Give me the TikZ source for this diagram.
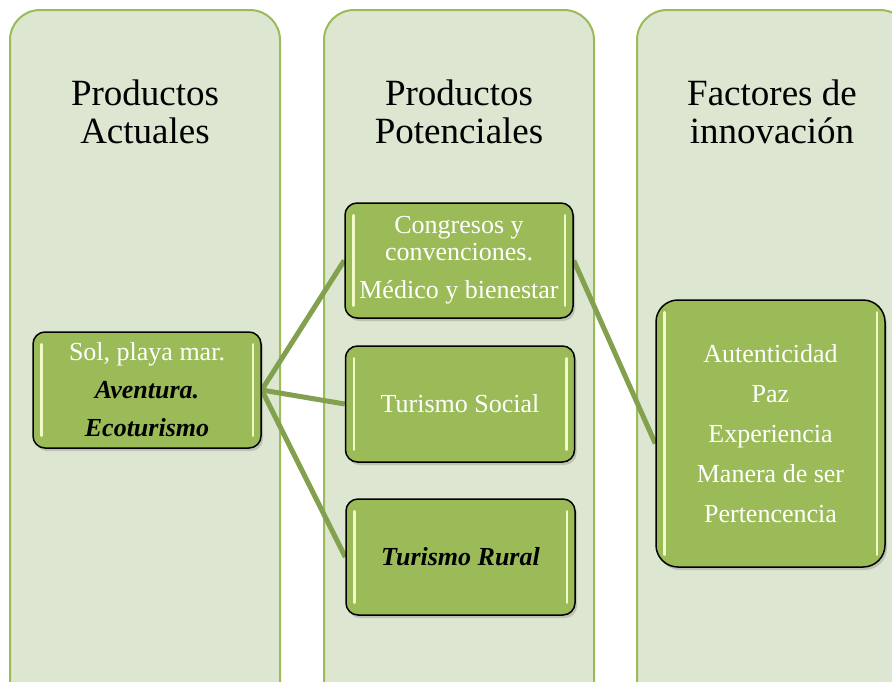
\documentclass[tikz,border=0pt]{standalone}
\usepackage{fontspec}
\setmainfont{Liberation Serif}
\usetikzlibrary{shadows}
\definecolor{panelfill}{HTML}{DDE6D0}
\definecolor{panelline}{HTML}{9BBB59}
\definecolor{boxfill}{HTML}{9BBB59}
\definecolor{linkcol}{HTML}{82A04E}
\definecolor{glintcol}{HTML}{F2FBC8}
\pgfdeclarelayer{bg}
\pgfdeclarelayer{links}
\pgfsetlayers{bg,links,main}
\begin{document}
\begin{tikzpicture}[x=1pt,y=-1pt,
  panel/.style={draw=panelline,fill=panelfill,line width=2pt,rounded corners=30pt},
  ptitle/.style={align=center,inner sep=0pt,font=\fontsize{37}{38}\selectfont},
  pbox/.style={draw=black,line width=1.5pt,fill=boxfill,rounded corners=12pt,
     inner sep=0pt,align=center,text=white,font=\fontsize{26}{38}\selectfont,
     drop shadow={opacity=0.35,shadow xshift=2pt,shadow yshift=-3pt}},
  emph/.style={text=black},
  glint/.style={draw=glintcol,line width=2.5pt,line cap=round},
  linkline/.style={draw=linkcol,line width=5pt}]
\useasboundingbox (0,0) rectangle (892,681);
\begin{pgfonlayer}{bg}
\begin{scope}
\clip (0,0) rectangle (892,681);
\draw[panel] (10,10) rectangle (280,720);
\draw[panel] (324,10) rectangle (594,720);
\draw[panel] (637,10) rectangle (910,720);
\end{scope}
\end{pgfonlayer}
\node[ptitle] (t1) at (145,112) {Productos\\Actuales};
\node[ptitle] (t2) at (459,112) {Productos\\Potenciales};
\node[ptitle] (t3) at (772,112) {Factores de\\innovación};

\node[pbox,minimum width=228pt,minimum height=116pt] (sol) at (147,390)
  {Sol, playa mar.\\{\color{black}\bfseries\itshape Aventura.}\\{\color{black}\bfseries\itshape Ecoturismo}};
\node[pbox,minimum width=228pt,minimum height=115pt,font=\fontsize{26}{27}\selectfont] (cong) at (459,260.5)
  {Congresos y\\convenciones.\\[11pt]Médico y bienestar};
\node[pbox,minimum width=229pt,minimum height=116pt] (social) at (460,404) {Turismo Social};
\node[pbox,minimum width=229pt,minimum height=116pt,text=black,font=\fontsize{26}{38}\selectfont\bfseries\itshape] (rural) at (460.5,557) {Turismo Rural};
\node[pbox,minimum width=229pt,minimum height=267pt,rounded corners=22pt,font=\fontsize{26}{40}\selectfont] (fact) at (770.5,433.5)
  {Autenticidad\\Paz\\Experiencia\\Manera de ser\\Pertencencia};

\foreach \b in {sol,cong,social,rural,fact}{
  \draw[glint] ([shift={(9,13)}]\b.north west) -- ([shift={(9,-13)}]\b.south west);
  \draw[glint] ([shift={(-9,13)}]\b.north east) -- ([shift={(-9,-13)}]\b.south east);
}
\begin{pgfonlayer}{links}
\draw[linkline] (sol.east) -- (cong.west);
\draw[linkline] (sol.east) -- (social.west);
\draw[linkline] (sol.east) -- (rural.west);
\draw[linkline] (cong.east) -- ([yshift=-10pt]fact.west);
\end{pgfonlayer}
\end{tikzpicture}
\end{document}
